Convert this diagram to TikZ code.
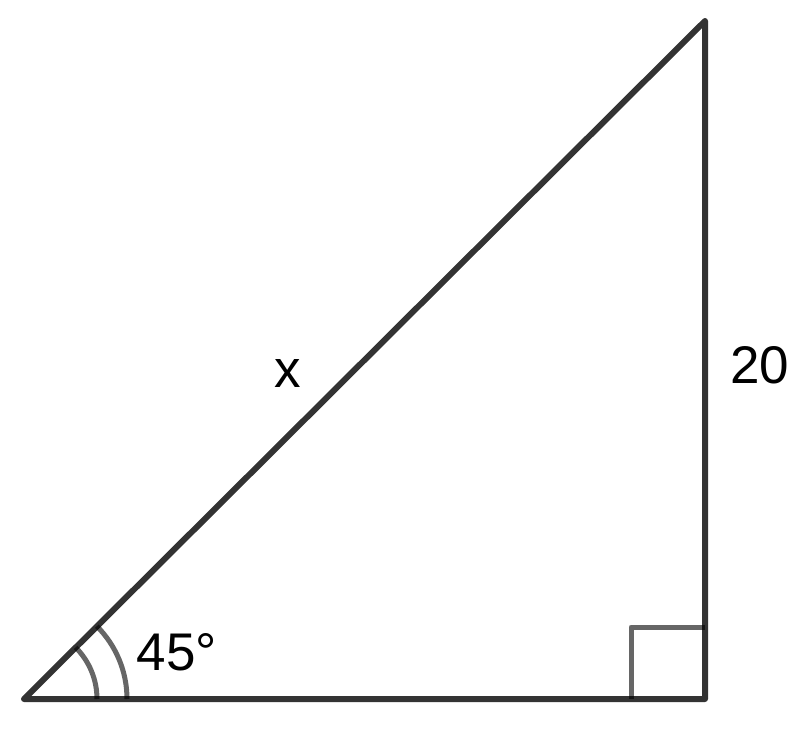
\documentclass[tikz,border=0pt]{standalone}
\usepackage{fontspec}
\setmainfont{Liberation Sans}
\tikzset{side/.style={draw=black,draw opacity=0.8,line width=6pt,line cap=round,line join=round},
  anglemark/.style={draw=black,draw opacity=0.6,line width=5pt},
  lbl/.style={font=\fontsize{53}{60}\selectfont,inner sep=0pt}}
\begin{document}
\begin{tikzpicture}[x=1pt,y=-1pt]
\useasboundingbox (0,0) rectangle (812,732);
\coordinate (A) at (24,699);
\coordinate (B) at (705,699);
\coordinate (C) at (705,21);
%angle marks
\draw[anglemark] (A) ++(73,0) arc[start angle=0,end angle=-45,radius=73];
\draw[anglemark] (A) ++(103,0) arc[start angle=0,end angle=-45,radius=103];
\draw[anglemark,line join=round] (631,699) -- (631,627) -- (705,627);
\draw[side] (A) -- (B) (B) -- (C) (C) -- (A);
\node[lbl] (x) at (288,373) {x};
\node[lbl] (s) at (760,365) {20};
\node[lbl] (ang) at (177,652) {45°};
\end{tikzpicture}
\end{document}
